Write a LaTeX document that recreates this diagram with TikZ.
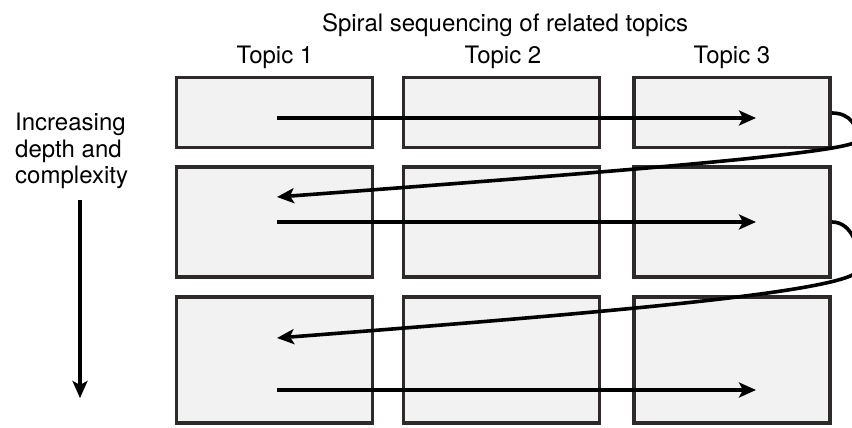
\documentclass[tikz,border=0pt]{standalone}
\usepackage{fontspec}
\setmainfont{TeX Gyre Heros}
\usetikzlibrary{arrows.meta}
\definecolor{boxfill}{HTML}{F2F2F2}
\definecolor{boxline}{HTML}{2E2A2A}
\begin{document}
\begin{tikzpicture}[x=1pt,y=-1pt,
  cell/.style={draw=boxline,line width=3.2pt,fill=boxfill,minimum width=196pt,inner sep=0pt},
  lbl/.style={font=\fontsize{24}{26.5}\selectfont,inner sep=0pt},
  flow/.style={line width=3.6pt,-{Stealth[length=17pt,width=15pt,inset=4pt]}}]
\path[use as bounding box] (0,0) rectangle (852,428);
\clip (0,0) rectangle (852,428);
% titles
\node[lbl,anchor=base] (title) at (505,32) {Spiral sequencing of related topics};
\node[lbl,anchor=base] (t1) at (275,64) {Topic 1};
\node[lbl,anchor=base] (t2) at (503,64) {Topic 2};
\node[lbl,anchor=base] (t3) at (732,64) {Topic 3};
\node[lbl,anchor=north west,align=left] (side) at (15,113) {Increasing\\depth and\\complexity};
% boxes
\foreach \c/\x in {1/274.5,2/501.5,3/732}{
  \node[cell,minimum height=70pt] (r1c\c) at (\x,112.5) {};
  \node[cell,minimum height=110pt] (r2c\c) at (\x,222) {};
  \node[cell,minimum height=126pt] (r3c\c) at (\x,360) {};
}
% coordinates for arrows
\coordinate (a1s) at (277,118);  \coordinate (a1e) at (756,118);
\coordinate (l1s) at (832,113);  \coordinate (l1m) at (858,140); \coordinate (l1e) at (277,197);
\coordinate (a2s) at (277,222);  \coordinate (a2e) at (756,222);
\coordinate (l2s) at (832,222);  \coordinate (l2m) at (860,268); \coordinate (l2e) at (277,338);
\coordinate (a3s) at (277,390);  \coordinate (a3e) at (756,390);
\coordinate (vs) at (80,200);    \coordinate (ve) at (80,398);
% arrows
\draw[flow] (a1s) -- (a1e);
\draw[flow] (l1s) .. controls (850,113) and (858,126) .. (l1m)
  .. controls (858,152) and (640,170) .. (l1e);
\draw[flow] (a2s) -- (a2e);
\draw[flow] (l2s) .. controls (852,222) and (860,248) .. (l2m)
  .. controls (860,290) and (640,310) .. (l2e);
\draw[flow] (a3s) -- (a3e);
\draw[flow] (vs) -- (ve);
\end{tikzpicture}
\end{document}
